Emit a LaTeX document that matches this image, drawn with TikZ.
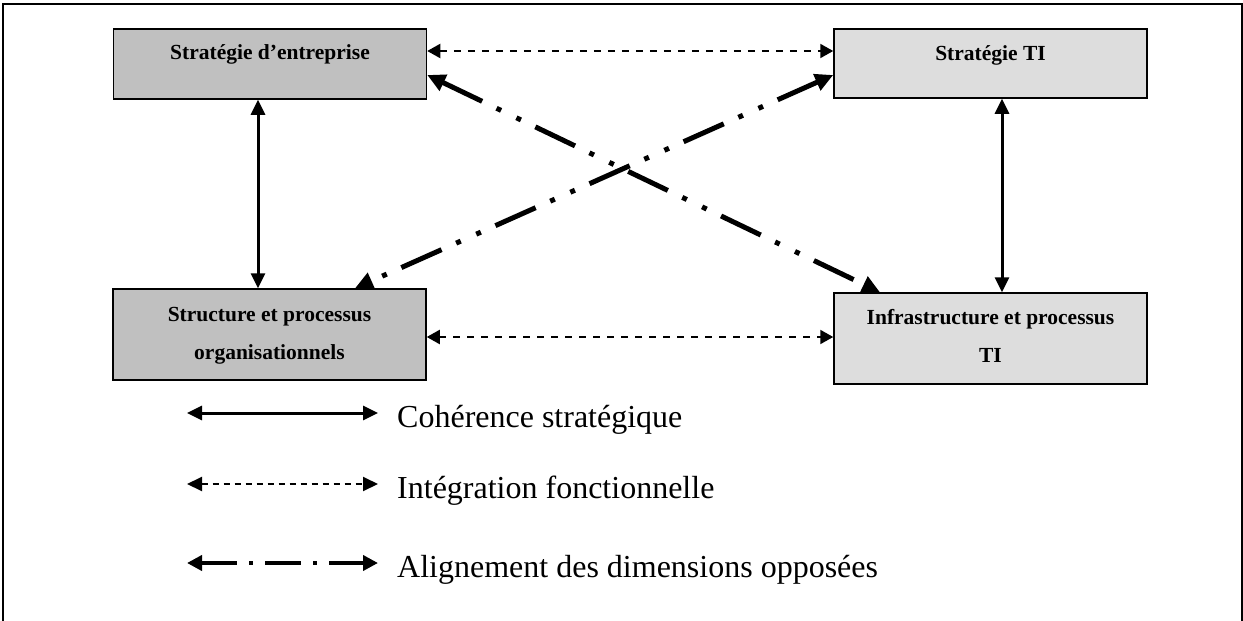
\documentclass[tikz,border=0pt]{standalone}
\usepackage{fontspec}
\setmainfont{Liberation Serif}
\usetikzlibrary{arrows.meta}
\definecolor{darkbox}{HTML}{C0C0C0}
\definecolor{lightbox}{HTML}{DDDDDD}
\begin{document}
\begin{tikzpicture}[x=1pt,y=-1pt,
  box/.style={draw=black, line width=1.5pt, rectangle, inner sep=0pt, minimum width=313pt},
  boxtext/.style={font=\fontsize{21.5}{38}\selectfont\bfseries, align=center, inner sep=0pt},
  legtext/.style={font=\fontsize{32}{38}\selectfont, anchor=base west, inner sep=0pt},
  coh/.style={line width=3pt, {Triangle[length=15pt,width=14pt]}-{Triangle[length=15pt,width=14pt]}},
  integ/.style={line width=2pt, dash pattern=on 7pt off 7pt, {Triangle[length=13pt,width=14pt]}-{Triangle[length=13pt,width=14pt]}},
  alignarrow/.style={line width=5pt, dash pattern=on 44pt off 16pt on 5pt off 17pt on 5pt off 16pt, {Triangle[length=18pt,width=17pt]}-{Triangle[length=18pt,width=17pt]}},
  legalign/.style={line width=4.5pt, dash pattern=on 36pt off 12pt on 4pt off 12pt, {Triangle[length=15pt,width=15pt]}-{Triangle[length=15pt,width=15pt]}}
]
\useasboundingbox (0,0) rectangle (1243,621);
\draw[line width=2pt] (3,621) -- (3,4) -- (1242,4) -- (1242,621);

% boxes
\node[box, fill=darkbox, minimum height=70pt] (se) at (270,64) {};
\node[box, fill=lightbox, minimum height=69pt] (st) at (990.5,63.5) {};
\node[box, fill=darkbox, minimum height=91pt] (sp) at (269.5,334.5) {};
\node[box, fill=lightbox, minimum height=91pt] (it) at (990.5,338.5) {};

\node[boxtext, anchor=base] (tse) at (270,59) {Stratégie d’entreprise};
\node[boxtext, anchor=base] (tst) at (990.5,60) {Stratégie TI};
\node[boxtext, anchor=north] (tsp) at (269.5,307.5) {Structure et processus\\organisationnels};
\node[boxtext, anchor=north] (tit) at (990.5,309.5) {Infrastructure et processus\\TI};

% helper coordinates
\coordinate (xl) at (258,0);
\coordinate (xr) at (1002,0);
\coordinate (yt) at (0,51);
\coordinate (yb) at (0,337);
\coordinate (yd) at (0,75);
\coordinate (xd1) at (880,0);
\coordinate (xd2) at (355,0);

% strategic coherence
\draw[coh] (se.south -| xl) -- (sp.north -| xl);
\draw[coh] (st.south -| xr) -- (it.north -| xr);
% functional integration
\draw[integ] (se.east |- yt) -- (st.west |- yt);
\draw[integ] (sp.east |- yb) -- (it.west |- yb);
% alignment of opposite dimensions
\draw[alignarrow] (st.west |- yd) -- (sp.north -| xd2);
\draw[alignarrow] (se.east |- yd) -- (it.north -| xd1);

% legend
\coordinate (l1a) at (187,413); \coordinate (l1b) at (378,413);
\coordinate (l2a) at (187,484); \coordinate (l2b) at (378,484);
\coordinate (l3a) at (187,563); \coordinate (l3b) at (378,563);
\draw[coh] (l1a) -- (l1b);
\draw[line width=2pt, dash pattern=on 6pt off 5pt, {Triangle[length=15pt,width=14pt]}-{Triangle[length=15pt,width=14pt]}] (l2a) -- (l2b);
\draw[legalign] (l3a) -- (l3b);
\node[legtext] (c1) at (397,427) {Cohérence stratégique};
\node[legtext] (c2) at (397,498) {Intégration fonctionnelle};
\node[legtext] (c3) at (397,577) {Alignement des dimensions opposées};
\end{tikzpicture}
\end{document}
